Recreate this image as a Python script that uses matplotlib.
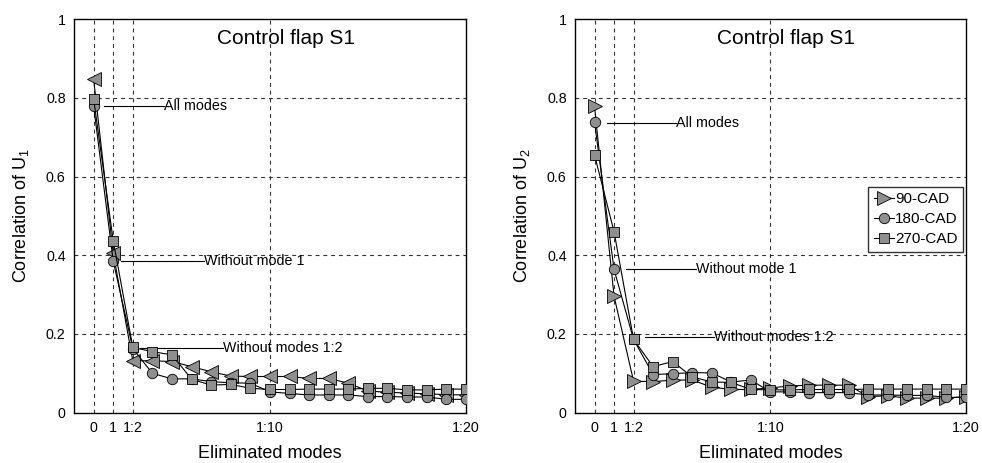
import matplotlib
matplotlib.use("Agg")
import matplotlib.pyplot as plt
import numpy as np

plt.rcParams['font.family'] = ['Liberation Sans', 'DejaVu Sans']
plt.rcParams['mathtext.fontset'] = 'custom'
plt.rcParams['mathtext.rm'] = 'Liberation Sans'
plt.rcParams['mathtext.it'] = 'Liberation Sans'

# Number of eliminated modes (0 = all modes kept, k = modes 1..k removed)
modes = list(range(20))
tick_pos = [0, 1, 2, 9, 19]
tick_labels = ['0', '1', '1:2', '1:10', '1:20']

# Correlation of U1
u1_90 = [0.847, 0.405, 0.132, 0.132, 0.130, 0.117, 0.104, 0.093, 0.092, 0.092,
         0.092, 0.087, 0.087, 0.075, 0.055, 0.052, 0.050, 0.048, 0.046, 0.045]
u1_180 = [0.779, 0.385, 0.163, 0.100, 0.086, 0.086, 0.079, 0.076, 0.075, 0.053,
          0.049, 0.045, 0.045, 0.045, 0.041, 0.041, 0.040, 0.040, 0.034, 0.034]
u1_270 = [0.797, 0.437, 0.166, 0.155, 0.147, 0.085, 0.070, 0.072, 0.062, 0.059,
          0.059, 0.060, 0.060, 0.060, 0.062, 0.062, 0.058, 0.058, 0.060, 0.060]

# Correlation of U2
u2_90 = [0.779, 0.296, 0.080, 0.079, 0.083, 0.083, 0.065, 0.059, 0.059, 0.063,
         0.068, 0.070, 0.070, 0.070, 0.041, 0.043, 0.037, 0.037, 0.037, 0.041]
u2_180 = [0.739, 0.364, 0.186, 0.097, 0.099, 0.102, 0.101, 0.078, 0.083, 0.053,
          0.053, 0.051, 0.051, 0.051, 0.045, 0.045, 0.044, 0.044, 0.039, 0.039]
u2_270 = [0.655, 0.460, 0.186, 0.117, 0.130, 0.091, 0.078, 0.077, 0.059, 0.058,
          0.058, 0.059, 0.059, 0.059, 0.060, 0.060, 0.060, 0.060, 0.060, 0.060]

series_names = ['90-CAD', '180-CAD', '270-CAD']

# Annotation callouts: (label, line start x, text x, y)
notes_u1 = [('All modes', 0.55, 3.6, 0.779),
            ('Without mode 1', 1.42, 5.65, 0.385),
            ('Without modes 1:2', 2.35, 6.6, 0.165)]
notes_u2 = [('All modes', 0.63, 4.15, 0.737),
            ('Without mode 1', 1.62, 5.2, 0.364),
            ('Without modes 1:2', 2.6, 6.1, 0.192)]

fig = plt.figure(figsize=(9.82, 4.63), dpi=100)
ax1 = fig.add_axes([0.0754, 0.1086, 0.399, 0.8503])
ax2 = fig.add_axes([0.5855, 0.1086, 0.398, 0.8503])

face = '#8f8f8f'


def draw(ax, data, tri, ylabel, notes, legend):
    markers = [tri, 'o', 's']
    sizes = [9.5, 7.5, 6.5]
    for vals, m, ms, name in zip(data, markers, sizes, series_names):
        ax.plot(modes, vals, color='black', lw=0.8, marker=m, ms=ms,
                mfc=face, mec='black', mew=0.6, label=name, zorder=3)
    ax.set_xlim(-1, 19)
    ax.set_ylim(0, 1)
    ax.set_xticks(tick_pos)
    ax.set_xticklabels(tick_labels)
    ax.set_yticks([0, 0.2, 0.4, 0.6, 0.8, 1])
    ax.set_yticklabels(['0', '0.2', '0.4', '0.6', '0.8', '1'])
    ax.tick_params(length=0, labelsize=10.3, pad=6)
    for v in [0.2, 0.4, 0.6, 0.8]:
        ax.axhline(v, color='#333333', lw=0.8, ls=(0, (3.5, 3.5)), zorder=1)
    for v in [0, 1, 2, 9]:
        ax.axvline(v, color='#333333', lw=0.8, ls=(0, (3.5, 3.5)), zorder=1)
    for sp in ax.spines.values():
        sp.set_linewidth(1.0)
    ax.set_xlabel('Eliminated modes', fontsize=13, labelpad=7)
    ax.set_ylabel(ylabel, fontsize=13, labelpad=11)
    ax.text(9.8, 0.95, 'Control flap S1', ha='center', va='center', fontsize=15)
    for label, x0, xt, y in notes:
        ax.plot([x0, xt], [y, y], color='black', lw=0.8, zorder=2)
        ax.text(xt, y, label, ha='left', va='center', fontsize=10.3, zorder=4)
    if legend:
        leg = ax.legend(loc='upper right', bbox_to_anchor=(0.993, 0.574),
                        fontsize=11, frameon=True, fancybox=False,
                        edgecolor='black', handlelength=1.3, handletextpad=0.1,
                        borderpad=0.35, labelspacing=0.4, borderaxespad=0.0)
        leg.get_frame().set_linewidth(1.0)


draw(ax1, [u1_90, u1_180, u1_270], '<', 'Correlation of U$_1$', notes_u1, False)
draw(ax2, [u2_90, u2_180, u2_270], '>', 'Correlation of U$_2$', notes_u2, True)

fig.savefig('out.png', dpi=100)
